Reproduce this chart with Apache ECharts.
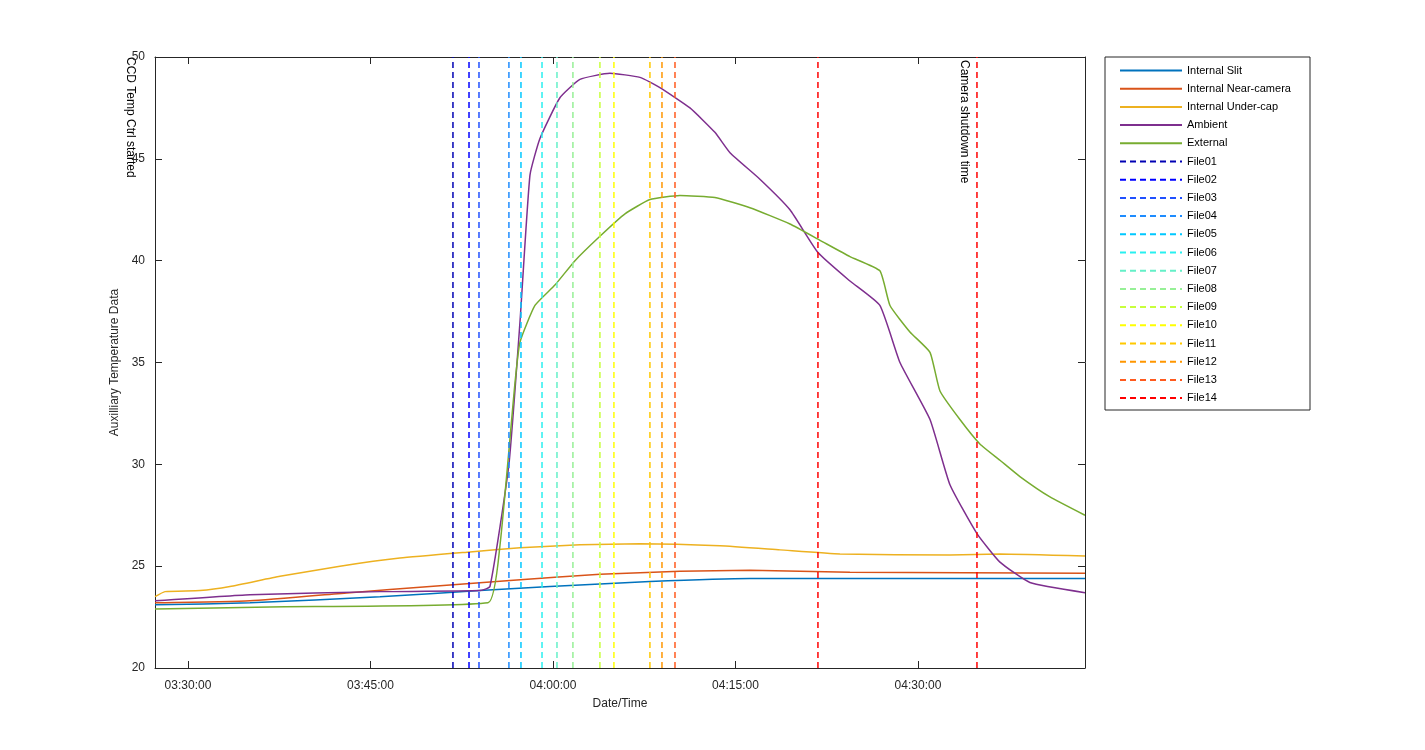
<!DOCTYPE html>
<html>
<head>
<meta charset="utf-8">
<script src="https://cdn.jsdelivr.net/npm/echarts@6/dist/echarts.min.js"></script>
<style>html,body{margin:0;padding:0;background:#fff}#main{width:1425px;height:750px}</style>
</head>
<body>
<div id="main"></div>
<script>
// x values are minutes after 03:30:00
var slitT = [-2.71, 5.10, 15.78, 24.00, 29.75, 37.97, 46.19, 54.41, 73.73];
var slitV = [23.1, 23.2, 23.5, 23.8, 24.0, 24.25, 24.4, 24.4, 24.4];
var nearT = [-2.71, 5.10, 13.31, 19.89, 26.47, 33.86, 40.44, 46.19, 54.41, 73.73];
var nearV = [23.2, 23.3, 23.7, 24.0, 24.3, 24.6, 24.75, 24.8, 24.7, 24.65];
var capT = [-2.71, -1.89, 0.99, 3.45, 7.56, 12.49, 17.42, 23.18, 27.29, 32.22, 37.15, 43.73, 48.66, 53.59, 62.63, 66.74, 73.73];
var capV = [23.5, 23.75, 23.8, 24.0, 24.5, 25.0, 25.4, 25.7, 25.9, 26.05, 26.1, 26.0, 25.8, 25.6, 25.55, 25.6, 25.5];
var ambT = [-2.71, 5.10, 15.78, 24.00, 24.82, 26.38, 27.29, 28.11, 28.93, 30.57, 32.22, 34.68, 37.15, 38.79, 41.26, 43.31, 44.55, 47.01, 49.48, 51.78, 54.41, 56.87, 58.52, 60.99, 62.63, 64.85, 66.74, 69.20, 73.73];
var ambV = [23.3, 23.6, 23.75, 23.8, 24.0, 30.0, 37.0, 44.2, 46.0, 48.0, 48.9, 49.2, 49.0, 48.5, 47.5, 46.3, 45.3, 44.0, 42.5, 40.4, 39.0, 37.8, 35.0, 32.2, 29.0, 26.6, 25.2, 24.2, 23.7];
var extT = [-2.71, 6.74, 24.66, 25.64, 26.88, 27.29, 28.52, 30.16, 31.81, 33.86, 35.92, 37.97, 40.44, 43.31, 46.19, 49.48, 51.95, 54.41, 56.87, 57.70, 59.34, 60.99, 61.81, 63.45, 65.09, 66.74, 68.38, 70.85, 73.73];
var extV = [22.9, 23.0, 23.2, 26.0, 34.0, 36.0, 37.8, 38.8, 40.0, 41.2, 42.3, 43.0, 43.2, 43.1, 42.6, 41.8, 41.0, 40.2, 39.5, 37.8, 36.5, 35.5, 33.6, 32.2, 31.0, 30.2, 29.4, 28.4, 27.5];

var fileNames = ['File01','File02','File03','File04','File05','File06','File07','File08','File09','File10','File11','File12','File13','File14'];
var fileTimes = [21.78, 23.10, 23.92, 26.38, 27.37, 29.10, 30.33, 31.64, 33.86, 35.01, 37.97, 38.96, 40.03, 51.78];
var fileColors = ['#0000b4','#0000ff','#2050ff','#1e8cff','#00c8ff','#28f0f0','#64f0c8','#96f096','#c8ff3c','#ffff00','#ffc800','#ff9600','#ff5a1e','#ff0000'];
var shutdownTime = 64.85;

var xTicks = [0, 15, 30, 45, 60];
var mainNames = ['Internal Slit','Internal Near-camera','Internal Under-cap','Ambient','External'];
var mainColors = ['#0072BD','#D95319','#EDB120','#7E2F8E','#77AC30'];

function pairs(t, v) { return t.map(function (x, i) { return [x, v[i]]; }); }
function fmt(m) {
  var s = Math.round((m + 210) * 60);
  var h = Math.floor(s / 3600), mm = Math.floor(s % 3600 / 60), ss = s % 60;
  function p(n) { return (n < 10 ? '0' : '') + n; }
  return p(h) + ':' + p(mm) + ':' + p(ss);
}

var series = [];
var mainData = [pairs(slitT, slitV), pairs(nearT, nearV), pairs(capT, capV), pairs(ambT, ambV), pairs(extT, extV)];
mainNames.forEach(function (n, i) {
  series.push({ name: n, type: 'line', data: mainData[i], symbol: 'none', smooth: 0.15,
    lineStyle: { color: mainColors[i], width: 1.5 }, itemStyle: { color: mainColors[i] } });
});
fileNames.forEach(function (n, i) {
  series.push({ name: n, type: 'line', data: [[fileTimes[i], 20], [fileTimes[i], 50]], symbol: 'none',
    lineStyle: { color: fileColors[i], width: 1.5, type: [6, 4] }, itemStyle: { color: fileColors[i] } });
});
series.push({ name: 'shutdown', type: 'line', data: [[shutdownTime, 20], [shutdownTime, 50]], symbol: 'none',
  lineStyle: { color: '#ff0000', width: 1.5, type: [6, 4] } });

var chart = echarts.init(document.getElementById('main'));
var tickStyle = { inside: true, length: 7, lineStyle: { color: '#262626' } };
var lineStyle = { onZero: false, lineStyle: { color: '#262626' } };
chart.setOption({
  animation: false,
  textStyle: { fontFamily: 'Liberation Sans, Arial, sans-serif' },
  grid: { left: 155, right: 340, top: 57, bottom: 82 },
  xAxis: [
    { type: 'value', min: -2.71, max: 73.73, name: 'Date/Time', nameLocation: 'middle', nameGap: 30,
      nameTextStyle: { color: '#262626', fontSize: 12 }, axisLine: lineStyle, splitLine: { show: false },
      axisTick: Object.assign({ customValues: xTicks }, tickStyle),
      axisLabel: { customValues: xTicks, color: '#262626', fontSize: 12, margin: 12, formatter: fmt } },
    { type: 'value', position: 'top', min: -2.71, max: 73.73, axisLine: lineStyle, splitLine: { show: false },
      axisTick: Object.assign({ customValues: xTicks }, tickStyle), axisLabel: { show: false } }
  ],
  yAxis: [
    { type: 'value', min: 20, max: 50, interval: 5, name: 'Auxilliary Temperature Data',
      nameLocation: 'middle', nameGap: 32, nameTextStyle: { color: '#262626', fontSize: 12 },
      axisLine: lineStyle, splitLine: { show: false }, axisTick: tickStyle,
      axisLabel: { color: '#262626', fontSize: 12, margin: 10 } },
    { type: 'value', position: 'right', min: 20, max: 50, interval: 5, axisLine: lineStyle,
      splitLine: { show: false }, axisTick: tickStyle, axisLabel: { show: false } }
  ],
  legend: {
    orient: 'vertical', left: 1114, top: 60, itemGap: 7.2, itemWidth: 62, itemHeight: 11,
    data: mainNames.concat(fileNames), itemStyle: { opacity: 0 },
    textStyle: { fontSize: 11, color: '#000' }
  },
  graphic: [
    { type: 'rect', shape: { x: 1105, y: 57, width: 205, height: 353 }, style: { fill: 'none', stroke: '#262626', lineWidth: 1 } },
    { type: 'text', x: 970, y: 60, rotation: -Math.PI / 2, style: { text: 'Camera shutdown time', fontSize: 12, fill: '#000' } },
    { type: 'text', x: 136, y: 57, rotation: -Math.PI / 2, style: { text: 'CCD Temp Ctrl started', fontSize: 12, fill: '#000' } }
  ],
  series: series
});
</script>
</body>
</html>
